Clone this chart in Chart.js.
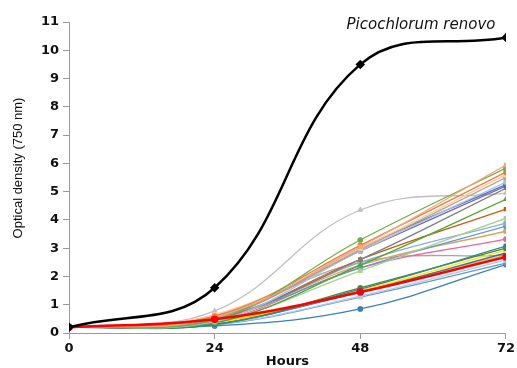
<!DOCTYPE html>
<html>
<head>
<meta charset="utf-8">
<script src="https://cdn.jsdelivr.net/npm/chart.js@4/dist/chart.umd.min.js"></script>
<style>
  html, body { margin: 0; padding: 0; background: #fff; }
  #wrap { width: 517px; height: 368px; }
</style>
</head>
<body>
<div id="wrap"><canvas id="growthChart" width="517" height="368"></canvas></div>
<script>
const hours = [0, 24, 48, 72];
const yTicks = [0, 1, 2, 3, 4, 5, 6, 7, 8, 9, 10, 11];

// Picochlorum renovo (black curve)
const renovoOD = [0.2, 1.6, 9.5, 10.45];
// thick red reference strain
const redStrainOD = [0.2, 0.49, 1.45, 2.69];
// other strains
const strainOD = [
  [0.2, 0.55, 3.05, 5.94],
  [0.2, 0.45, 3.29, 5.83],
  [0.2, 0.6, 3.1, 5.69],
  [0.2, 0.65, 3.0, 5.6],
  [0.2, 0.5, 2.95, 5.5],
  [0.2, 0.4, 2.9, 5.34],
  [0.2, 0.5, 3.0, 5.25],
  [0.2, 0.55, 2.9, 5.2],
  [0.2, 0.5, 2.6, 5.12],
  [0.2, 0.78, 4.35, 4.95],
  [0.2, 0.35, 2.4, 4.73],
  [0.2, 0.45, 2.6, 4.38],
  [0.2, 0.4, 2.2, 4.06],
  [0.2, 0.45, 2.5, 3.89],
  [0.2, 0.5, 2.3, 3.78],
  [0.2, 0.45, 2.4, 3.6],
  [0.2, 0.4, 2.3, 3.32],
  [0.2, 0.3, 1.55, 3.07],
  [0.2, 0.3, 1.6, 3.0],
  [0.2, 0.35, 1.5, 2.93],
  [0.2, 0.35, 1.45, 2.83],
  [0.2, 0.6, 2.5, 2.75],
  [0.2, 0.4, 1.5, 2.75],
  [0.2, 0.3, 1.3, 2.58],
  [0.2, 0.28, 1.27, 2.47],
  [0.2, 0.25, 0.85, 2.42]
];

const strainColors = [
  '#F4A582', '#70AD47', '#ED7D31', '#F8CBAD', '#C9A07A', '#9DC3E6', '#4472C4',
  '#8064A2', '#7F7F7F', '#BFBFBF', '#4EA72E', '#C55A11', '#A9D18E', '#8FAADC',
  '#5B9BD5', '#E0A060', '#F06292', '#2E8B8B', '#548235', '#FFE600', '#2E75B6',
  '#A5A5A5', '#FFC000', '#B4C7E7', '#5B9BD5', '#3A7FB5'
];
const strainMarkers = [
  'rect', 'circle', 'circle', 'circle', 'circle', 'circle', 'circle',
  'circle', 'triangle', 'triangle', 'triangle', 'rect', 'rect', 'circle',
  'circle', 'circle', 'circle', 'circle', 'circle', 'circle', 'rect',
  'rect', 'circle', 'circle', 'rect', 'circle'
];

const datasets = [
  {
    label: 'Picochlorum renovo',
    data: renovoOD,
    borderColor: '#000',
    backgroundColor: '#000',
    borderWidth: 2.5,
    pointStyle: 'rectRot',
    pointRadius: 3
  },
  {
    label: 'Strain R',
    data: redStrainOD,
    borderColor: '#FF0000',
    backgroundColor: '#FF0000',
    borderWidth: 2.5,
    pointStyle: 'circle',
    pointRadius: 2.5
  }
];
strainOD.forEach((vals, i) => {
  datasets.push({
    label: 'Strain ' + (i + 1),
    data: vals,
    borderColor: strainColors[i],
    backgroundColor: strainColors[i],
    borderWidth: 1.3,
    pointStyle: strainMarkers[i],
    pointRadius: 2.2
  });
});

const axisColor = '#9a9a9a';

// axis titles and the species label
const labelsPlugin = {
  id: 'labels',
  afterDraw(chart) {
    const ctx = chart.ctx;
    const xs = chart.scales.x;
    ctx.save();
    ctx.fillStyle = '#111';
    ctx.textAlign = 'center';
    ctx.textBaseline = 'middle';

    ctx.font = 'italic 15px "DejaVu Sans"';
    ctx.fillText('Picochlorum renovo', 421, 25);

    ctx.font = 'bold 13px "DejaVu Sans"';
    ctx.fillText('Hours', (xs.left + xs.right) / 2, 362);

    ctx.translate(18, 168);
    ctx.rotate(-Math.PI / 2);
    ctx.font = '13px "Liberation Sans Narrow", "Liberation Sans"';
    ctx.fillText('Optical density (750 nm)', 0, 0);
    ctx.restore();
  }
};

new Chart(document.getElementById('growthChart'), {
  type: 'line',
  data: { labels: hours, datasets: datasets },
  plugins: [labelsPlugin],
  options: {
    responsive: false,
    animation: false,
    layout: { padding: { top: 22, right: 9, left: 0, bottom: 0 } },
    elements: { line: { tension: 0.4, fill: false } },
    plugins: { legend: { display: false }, tooltip: { enabled: false } },
    scales: {
      x: {
        type: 'linear',
        min: 0,
        max: 72,
        afterFit: (s) => { s.height = 35; },
        afterBuildTicks: (s) => { s.ticks = hours.map(v => ({ value: v })); },
        border: { color: axisColor, width: 1 },
        grid: { drawOnChartArea: false, color: axisColor, tickLength: 6 },
        ticks: { color: '#111', padding: 2, maxRotation: 0, font: { family: 'DejaVu Sans', size: 13, weight: 'bold' } }
      },
      y: {
        min: 0,
        max: 11,
        afterFit: (s) => { s.width = 69; },
        afterBuildTicks: (s) => { s.ticks = yTicks.map(v => ({ value: v })); },
        border: { color: axisColor, width: 1 },
        grid: { drawOnChartArea: false, color: axisColor, tickLength: 6 },
        ticks: { color: '#111', padding: 4, font: { family: 'DejaVu Sans', size: 13, weight: 'bold' } }
      }
    }
  }
});
</script>
</body>
</html>
